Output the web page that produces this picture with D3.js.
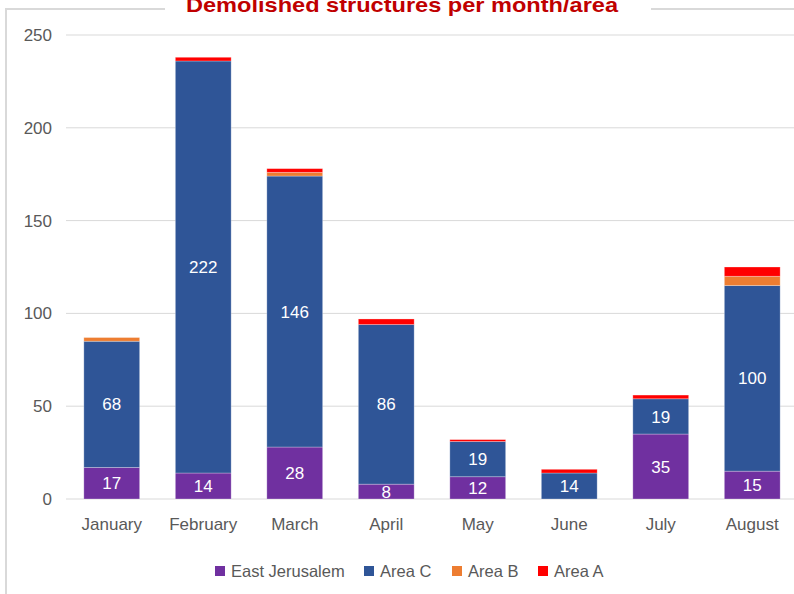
<!DOCTYPE html>
<html>
<head>
<meta charset="utf-8">
<script src="https://cdn.jsdelivr.net/npm/d3@7"></script>
<style>
  body { margin: 0; background: #fff; }
  svg { font-family: "Liberation Sans", Arial, sans-serif; }
</style>
</head>
<body>
<svg id="chart" width="794" height="594"></svg>
<script>
const months = ["January", "February", "March", "April", "May", "June", "July", "August"];
const eastJerusalem = [17, 14, 28, 8, 12, 0, 35, 15];
const areaC = [68, 222, 146, 86, 19, 14, 19, 100];
const areaB = [2, 0, 2, 0, 0, 0, 0, 5];
const areaA = [0, 2, 2, 3, 1, 2, 2, 5];
const yTicks = [0, 50, 100, 150, 200, 250];

const seriesNames = ["East Jerusalem", "Area C", "Area B", "Area A"];
const colors = ["#7030A0", "#2F5597", "#ED7D31", "#FF0000"];
const labelled = [true, true, false, false];

const svg = d3.select("#chart");
const margin = { top: 35, left: 66, bottom: 95 };
const plotW = 732;
const plotH = 594 - margin.top - margin.bottom;

// table for the stack
const rows = months.map((m, i) => ({
    month: m,
    "East Jerusalem": eastJerusalem[i],
    "Area C": areaC[i],
    "Area B": areaB[i],
    "Area A": areaA[i]
}));
const stacked = d3.stack().keys(seriesNames)(rows);

// frame with gap for the title
svg.append("path")
    .attr("d", "M165,9 H6 V594 M651,9 H794")
    .attr("fill", "none")
    .attr("stroke", "#d9d9d9")
    .attr("stroke-width", 2);

svg.append("text")
    .attr("x", 402)
    .attr("y", 12)
    .attr("text-anchor", "middle")
    .attr("fill", "#C00000")
    .style("font-weight", "bold")
    .style("font-size", "21px")
    .attr("textLength", 432)
    .attr("lengthAdjust", "spacingAndGlyphs")
    .text("Demolished structures per month/area");

const g = svg.append("g").attr("transform", `translate(${margin.left},${margin.top})`);

const x = d3.scaleBand().domain(months).range([0, plotW]).paddingInner(0.39).paddingOuter(0.195);
const y = d3.scaleLinear().domain([0, 250]).range([plotH, 0]);

// gridlines
g.append("g")
    .selectAll("line")
    .data(yTicks)
    .join("line")
    .attr("x1", 0).attr("x2", plotW)
    .attr("y1", d => y(d)).attr("y2", d => y(d))
    .attr("stroke", "#d9d9d9")
    .attr("stroke-width", 1);

// y axis labels
const yAxis = g.append("g")
    .call(d3.axisLeft(y).tickValues(yTicks).tickSize(0).tickPadding(14));
yAxis.select(".domain").remove();
yAxis.selectAll("text")
    .attr("fill", "#595959")
    .style("font-size", "17px")
    .style("font-family", "Liberation Sans, Arial, sans-serif");

// x axis labels
const xAxis = g.append("g")
    .attr("transform", `translate(0,${plotH})`)
    .call(d3.axisBottom(x).tickSize(0).tickPadding(19));
xAxis.select(".domain").remove();
xAxis.selectAll("text")
    .attr("fill", "#595959")
    .style("font-size", "17px")
    .style("font-family", "Liberation Sans, Arial, sans-serif");

// bars
const layers = g.append("g")
    .selectAll("g")
    .data(stacked)
    .join("g")
    .attr("fill", (d, i) => colors[i]);

layers.selectAll("rect")
    .data(d => d)
    .join("rect")
    .attr("x", d => x(d.data.month))
    .attr("y", d => y(d[1]))
    .attr("width", x.bandwidth())
    .attr("height", d => y(d[0]) - y(d[1]))
    .attr("stroke", "rgba(255,255,255,0.35)")
    .attr("stroke-width", d => (d[1] - d[0]) > 0 ? 0.8 : 0);

// data labels
stacked.forEach((layer, i) => {
    if (!labelled[i]) return;
    g.append("g")
        .selectAll("text")
        .data(layer.filter(d => d[1] - d[0] > 0))
        .join("text")
        .attr("x", d => x(d.data.month) + x.bandwidth() / 2)
        .attr("y", d => (y(d[0]) + y(d[1])) / 2)
        .attr("dy", "0.36em")
        .attr("text-anchor", "middle")
        .attr("fill", "#fff")
        .style("font-size", "17px")
        .text(d => d[1] - d[0]);
});

// legend
const legendX = [215, 364, 452, 538];
const legend = svg.append("g")
    .selectAll("g")
    .data(seriesNames)
    .join("g")
    .attr("transform", (d, i) => `translate(${legendX[i]},571)`);
legend.append("rect")
    .attr("x", 0).attr("y", -5)
    .attr("width", 10).attr("height", 10)
    .attr("fill", (d, i) => colors[i]);
legend.append("text")
    .attr("x", 16)
    .attr("dy", "0.36em")
    .attr("fill", "#595959")
    .style("font-size", "16.5px")
    .text(d => d);
</script>
</body>
</html>
